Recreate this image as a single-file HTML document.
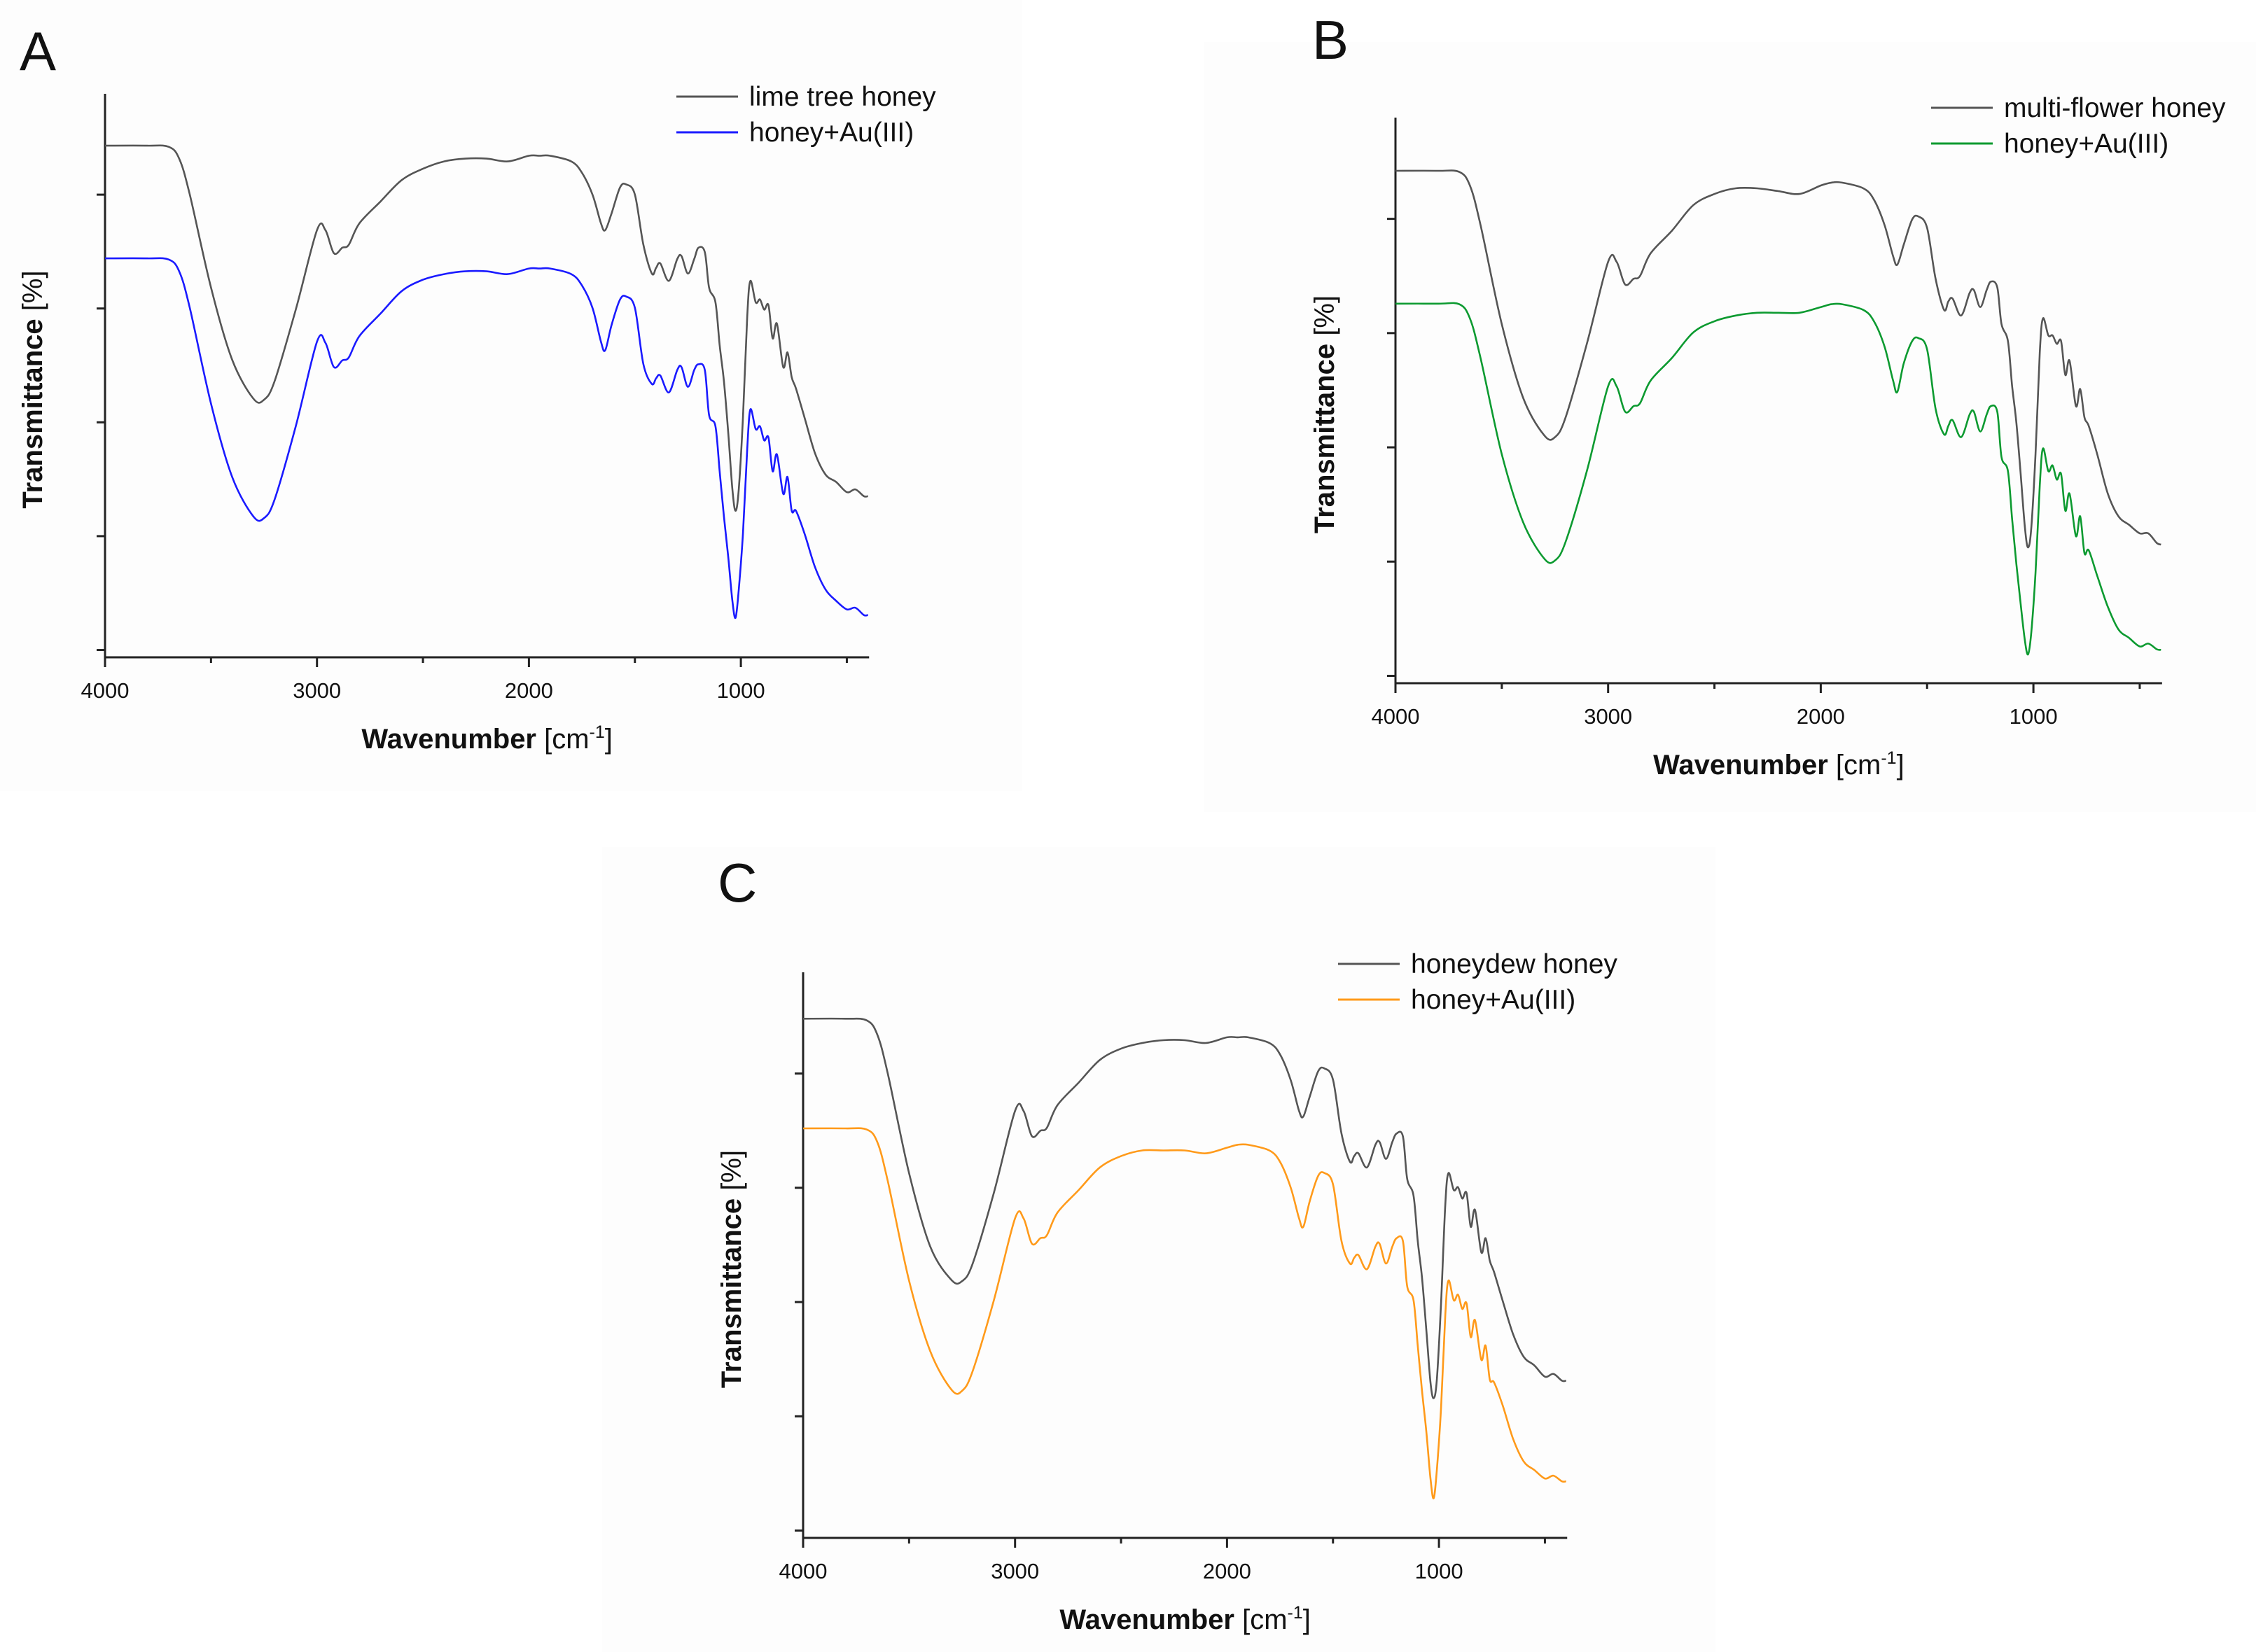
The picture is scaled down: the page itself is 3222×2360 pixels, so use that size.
<!DOCTYPE html>
<html><head><meta charset="utf-8"><style>
body{margin:0;background:#fff;}
svg{display:block;font-family:"Liberation Sans",sans-serif;}
</style></head><body>
<svg id="fig" width="3222" height="2360" viewBox="0 0 3222 2360"></svg>
<script>
const wavenumbers=[4000,3800,3700,3650,3600,3500,3400,3300,3250,3200,3100,3000,2960,2920,2880,2850,2800,2700,2600,2500,2400,2300,2200,2100,2000,1950,1900,1800,1750,1700,1660,1640,1610,1570,1540,1500,1460,1420,1400,1380,1340,1300,1280,1250,1220,1200,1170,1150,1120,1100,1080,1060,1040,1025,1010,990,970,955,930,910,890,870,850,830,800,780,760,740,700,650,600,550,500,460,420,400];
const limeHoney=[90.8,90.8,90.6,88.5,82.1,65.6,52.8,45.9,45.7,49.0,61.7,75.8,75.8,71.7,72.7,73.2,77.0,80.9,84.7,86.7,88.0,88.5,88.5,88.0,89.0,89.0,89.0,88.0,86.0,82.1,77.0,75.8,78.8,83.4,83.9,82.1,73.2,68.1,69.1,69.9,66.8,70.7,71.2,68.1,70.7,72.7,71.9,65.6,63.0,55.4,49.0,40.1,29.8,26.0,29.8,42.6,60.5,66.8,63.0,63.5,61.7,62.5,56.6,59.2,51.5,54.1,49.7,47.7,42.6,36.2,32.4,31.1,29.3,29.8,28.6,28.6];
const limeAu=[70.8,70.8,70.6,68.5,62.0,45.0,32.0,25.0,24.7,28.0,41.0,56.0,55.8,51.5,52.7,53.2,57.0,61.0,65.0,67.0,68.0,68.5,68.5,68.0,69.0,69.0,69.0,68.0,66.0,62.0,56.0,54.5,59.0,63.5,64.0,62.0,52.0,48.5,49.5,50.0,47.0,51.0,51.5,48.0,51.0,52.0,51.0,43.0,41.0,33.0,25.0,18.0,10.0,7.0,12.0,22.0,37.0,44.0,40.5,41.0,38.5,39.0,33.0,36.0,29.0,32.0,26.0,26.0,22.0,16.0,12.0,10.0,8.5,8.8,7.5,7.5];
const multiHoney=[90.6,90.6,90.4,88.0,81.0,63.5,50.5,43.8,43.5,47.0,60.0,74.5,74.5,70.5,71.5,72.0,76.0,80.0,84.5,86.5,87.5,87.5,87.0,86.5,88.0,88.5,88.5,87.5,85.5,81.0,75.5,74.0,77.5,82.0,82.5,80.5,71.5,66.0,67.5,68.0,65.0,69.0,69.5,66.5,69.5,71.0,70.0,63.5,60.5,52.5,46.0,37.0,27.5,24.0,27.5,40.5,58.5,64.5,61.5,61.5,60.0,60.5,54.5,57.0,49.0,52.0,47.0,45.5,40.5,33.5,29.5,28.0,26.5,26.5,24.8,24.5];
const multiAu=[67.1,67.1,67.0,64.5,57.5,40.5,28.5,22.0,21.7,25.0,37.5,52.5,52.5,48.0,49.0,49.5,53.5,57.5,62.0,64.0,65.0,65.5,65.5,65.5,66.5,67.0,67.0,66.0,64.0,59.5,53.5,51.5,56.5,60.5,61.0,59.0,48.5,44.0,45.5,46.5,43.5,47.5,48.0,44.5,47.5,49.0,48.0,40.0,37.5,29.0,21.0,14.0,7.5,5.1,9.0,19.5,35.0,41.5,37.5,38.5,36.0,37.0,30.5,33.5,26.0,29.5,23.0,23.5,19.0,13.5,9.5,8.0,6.5,7.0,6.0,5.9];
const dewHoney=[91.8,91.8,91.5,89.0,82.0,64.5,51.5,45.6,45.4,48.5,61.0,75.5,75.5,71.0,72.0,72.5,76.5,80.5,84.5,86.5,87.5,88.0,88.0,87.5,88.5,88.5,88.5,87.5,85.5,81.0,75.5,74.5,78.0,82.5,83.0,81.0,71.5,66.5,67.5,68.0,65.5,69.5,70.0,67.0,70.0,71.5,71.0,63.5,60.5,52.5,46.0,37.0,27.5,24.7,28.0,41.5,59.0,64.5,61.5,62.0,60.0,61.0,55.0,58.0,50.5,53.0,49.0,47.0,42.0,36.0,32.0,30.5,28.5,29.0,27.8,27.8];
const dewAu=[72.4,72.4,72.2,70.0,63.0,45.5,33.0,26.2,26.0,29.5,42.0,56.5,56.5,52.0,53.0,53.5,57.5,61.5,65.5,67.5,68.5,68.5,68.5,68.0,69.0,69.5,69.5,68.5,66.5,62.0,56.5,55.0,59.5,64.0,64.5,62.5,52.5,48.5,49.5,50.0,47.5,51.5,52.0,48.5,51.5,53.0,52.5,44.5,42.0,34.0,26.0,19.0,10.5,7.0,12.0,23.0,39.5,45.5,42.0,43.0,40.5,41.5,35.5,38.5,31.5,34.0,28.0,27.5,23.5,17.5,13.5,12.0,10.5,11.0,10.0,10.0];
const xTicks=[4000,3000,2000,1000];
const xMinorTicks=[3500,2500,1500,500];
const yTicks=[1.3,21.5,41.7,61.9,82.1];

const NS='http://www.w3.org/2000/svg';
const svg=document.getElementById('fig');
function mk(tag,attrs,parent){const e=document.createElementNS(NS,tag);for(const k in attrs)e.setAttribute(k,attrs[k]);(parent||svg).appendChild(e);return e;}
function smooth(pts){
  let d='M'+pts[0][0].toFixed(1)+' '+pts[0][1].toFixed(1);
  for(let i=0;i<pts.length-1;i++){
    const p0=pts[Math.max(0,i-1)],p1=pts[i],p2=pts[i+1],p3=pts[Math.min(pts.length-1,i+2)];
    const c1x=p1[0]+(p2[0]-p0[0])/6,c1y=p1[1]+(p2[1]-p0[1])/6;
    const c2x=p2[0]-(p3[0]-p1[0])/6,c2y=p2[1]-(p3[1]-p1[1])/6;
    d+=`C${c1x.toFixed(1)} ${c1y.toFixed(1)} ${c2x.toFixed(1)} ${c2y.toFixed(1)} ${p2[0].toFixed(1)} ${p2[1].toFixed(1)}`;
  }
  return d;
}

function panel(p){
  const g=mk('g',{});
  
  
  const bg=mk('rect',{x:p.bg[0],y:p.bg[1],width:p.bg[2],height:p.bg[3],fill:'#fdfdfd'},g);
  
  
  const xs=w=>p.L+(4000-w)/1000*p.per;
  const ys=v=>p.B-v/100*(p.B-p.T);
  const R=xs(395);
  const lab=mk('text',{x:p.letter[0],y:p.letter[1],'font-size':78,fill:'#111'},g);
  lab.textContent=p.id.toUpperCase();
  
  
  const ax=mk('path',{d:`M${p.L} ${p.T}V${p.B}H${R}`,stroke:'#222','stroke-width':3,fill:'none'},g);
  
  
  yTicks.forEach(v=>{const t=mk('line',{x1:p.L-12,x2:p.L,y1:ys(v),y2:ys(v),stroke:'#222','stroke-width':3},g);
    
    });
  xTicks.forEach(w=>{const t=mk('line',{x1:xs(w),x2:xs(w),y1:p.B,y2:p.B+14,stroke:'#222','stroke-width':3},g);
    
    
    const tl=mk('text',{x:xs(w),y:p.B+58,'font-size':31,'text-anchor':'middle',fill:'#111'},g);tl.textContent=w;
    
    });
  xMinorTicks.forEach(w=>{const t=mk('line',{x1:xs(w),x2:xs(w),y1:p.B,y2:p.B+8,stroke:'#222','stroke-width':3},g);
    
    });
  const xt=mk('text',{x:(p.L+R)/2,y:p.B+130,'font-size':40,'text-anchor':'middle',fill:'#111'},g);
  xt.innerHTML='<tspan font-weight="bold">Wavenumber</tspan> [cm<tspan font-size="25" dy="-15">-1</tspan><tspan dy="15">]</tspan>';
  
  
  const cy=(p.T+p.B)/2+20;
  const yt=mk('text',{x:p.ytx,y:cy,'font-size':40,'text-anchor':'middle',fill:'#111',transform:`rotate(-90 ${p.ytx} ${cy})`},g);
  yt.innerHTML='<tspan font-weight="bold">Transmittance</tspan> [%]';
  
  
  p.series.forEach((s,i)=>{
    const pts=wavenumbers.map((w,j)=>[xs(w),ys(s.vals[j])]);
    const l=mk('path',{d:smooth(pts),stroke:s.color,'stroke-width':2.6,fill:'none','stroke-linejoin':'round'},g);
    
    
    const ly=p.leg[1]+i*51;
    const ll=mk('line',{x1:p.leg[0],x2:p.leg[0]+88,y1:ly,y2:ly,stroke:s.color,'stroke-width':3},g);
    
    
    const lt=mk('text',{x:p.leg[0]+104,y:ly+13,'font-size':39,fill:'#111'},g);lt.textContent=s.label;
    
    
  });
}
panel({id:'a',L:150,per:302.7,T:134,B:939,bg:[0,0,1460,1130],letter:[28,100],ytx:60,leg:[966,138],
  series:[{name:'lime-tree-honey',label:'lime tree honey',color:'#555',vals:limeHoney},{name:'lime-honey-au',label:'honey+Au(III)',color:'#1a1aff',vals:limeAu}]});
panel({id:'b',L:1993,per:303.7,T:168,B:976,bg:[1720,60,1502,1100],letter:[1874,84],ytx:1905,leg:[2758,154],
  series:[{name:'multi-flower-honey',label:'multi-flower honey',color:'#555',vals:multiHoney},{name:'multi-honey-au',label:'honey+Au(III)',color:'#0c9a30',vals:multiAu}]});
panel({id:'c',L:1147,per:302.7,T:1389,B:2197,bg:[860,1210,1590,1150],letter:[1025,1288],ytx:1058,leg:[1911,1377],
  series:[{name:'honeydew-honey',label:'honeydew honey',color:'#555',vals:dewHoney},{name:'dew-honey-au',label:'honey+Au(III)',color:'#ff9a1a',vals:dewAu}]});
</script>
</body></html>
